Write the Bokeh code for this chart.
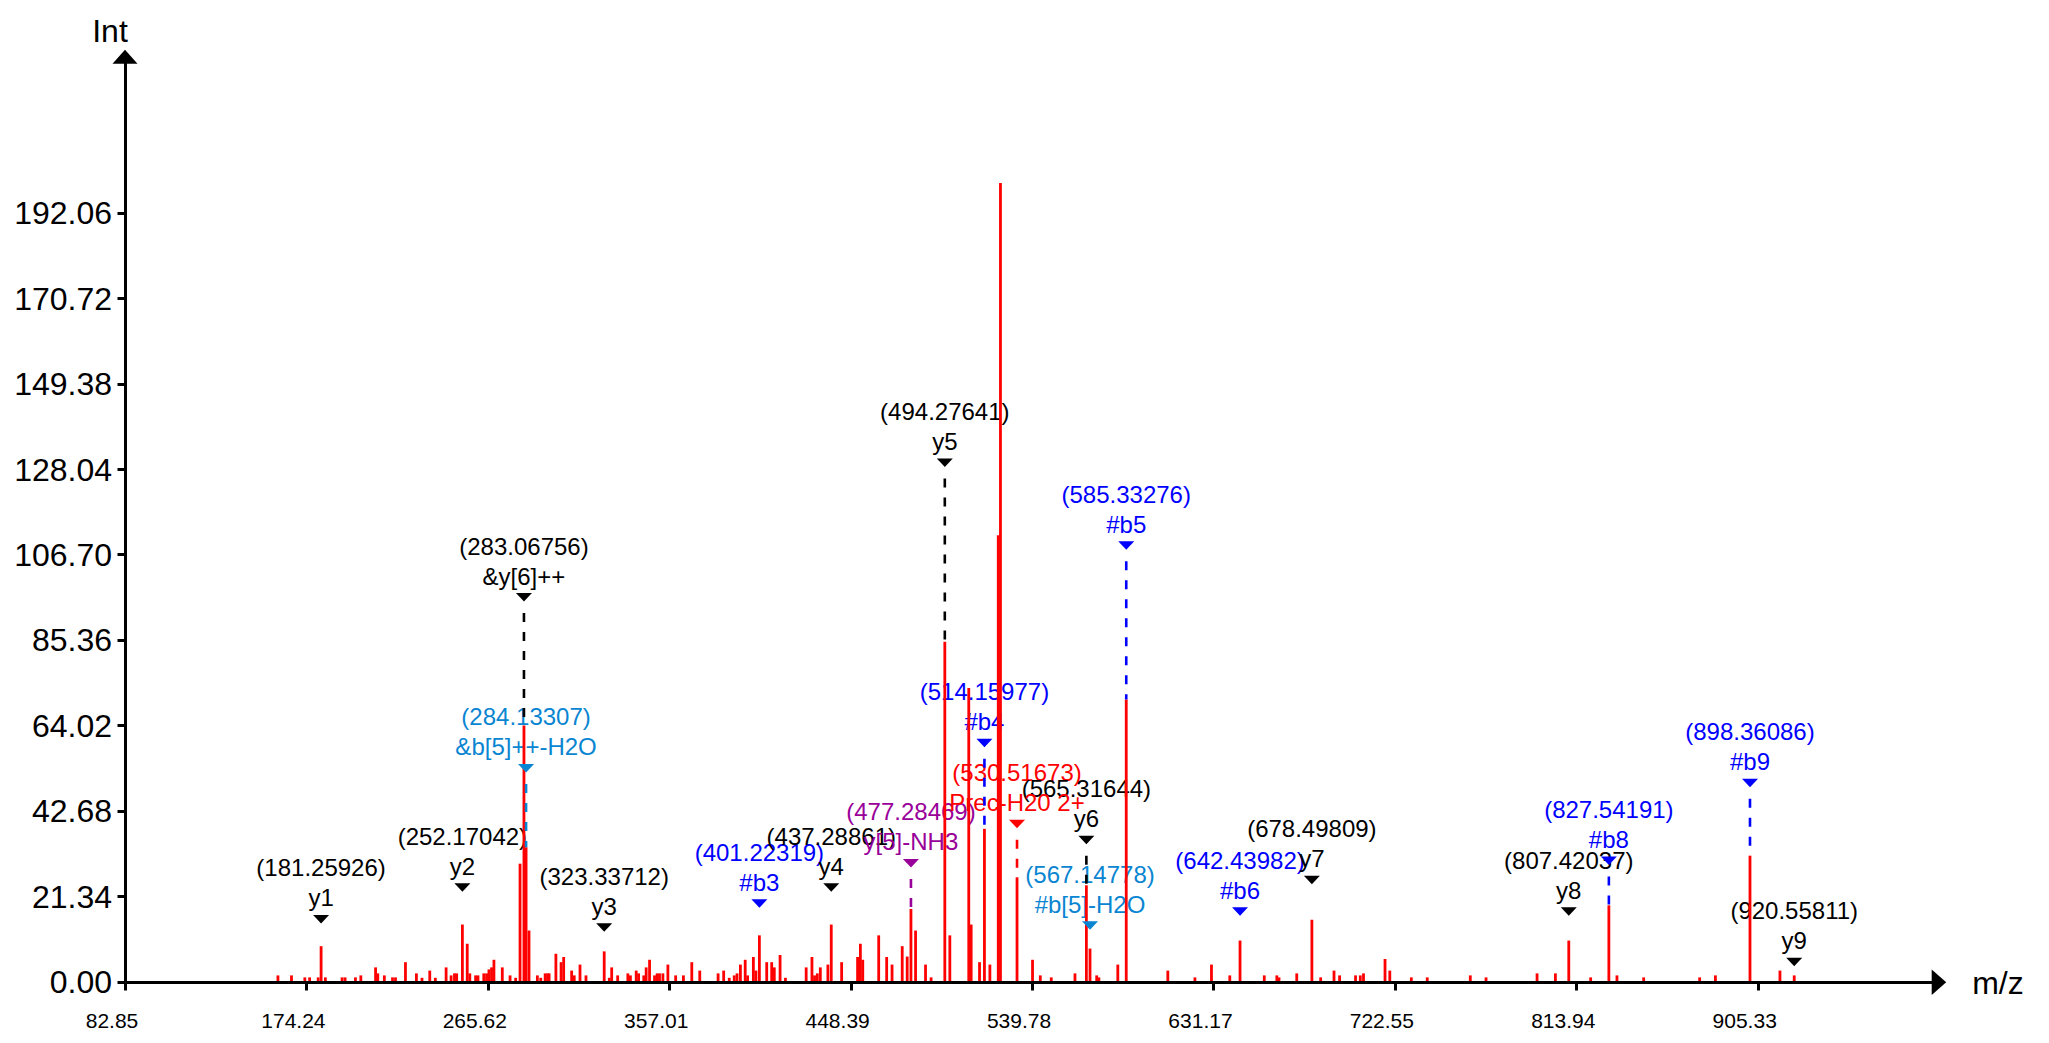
from bokeh.plotting import figure
from bokeh.models import (ColumnDataSource, Range1d, LinearAxis, FixedTicker,
                          CustomJSTickFormatter, PrintfTickFormatter)
from bokeh.core.properties import value
from bokeh.embed import file_html
from bokeh.resources import INLINE

# ---------------- data ----------------
x_tick_labels = ["82.85", "174.24", "265.62", "357.01", "448.39",
                 "539.78", "631.17", "722.55", "813.94", "905.33"]
y_tick_labels = ["0.00", "21.34", "42.68", "64.02", "85.36",
                 "106.70", "128.04", "149.38", "170.72", "192.06"]

peak_mz = [
    159.6, 166.4, 173.1, 175.5, 179.8, 181.26, 183.4, 191.8, 193.3, 198.5,
    201.2, 208.6, 209.7, 213.0, 217.1, 218.6, 223.6, 229.1, 231.9, 235.8,
    238.6, 244.0, 246.5, 248.2, 249.3, 252.17, 254.6, 255.9, 258.8, 260.0,
    262.9, 264.3, 265.5, 266.8, 268.0, 272.2, 276.1, 278.9, 281.1, 283.07,
    284.13, 285.6, 289.8, 291.5, 293.7, 294.9, 295.7, 299.1, 301.7, 303.0,
    307.0, 308.3, 311.2, 314.2, 323.34, 325.9, 327.1, 330.1, 335.2, 336.5,
    339.4, 340.6, 343.2, 344.4, 346.1, 348.6, 349.9, 351.1, 352.8, 355.3,
    359.2, 363.1, 367.3, 371.3, 380.5, 383.3, 386.1, 388.6, 390.0, 391.7,
    394.1, 395.3, 398.2, 399.5, 401.22, 404.9, 407.4, 408.7, 411.6, 414.3,
    424.7, 427.6, 428.9, 430.3, 431.8, 435.6, 437.29, 442.5, 450.5, 451.9,
    453.1, 461.1, 465.1, 467.8, 472.9, 475.4, 477.28, 479.6, 484.6, 487.4,
    494.28, 496.8, 506.3, 507.5, 511.7, 514.16, 516.9, 521.1, 522.2, 530.52,
    538.3, 542.2, 547.7, 559.6, 565.32, 567.15, 570.5, 571.6, 581.1, 585.33,
    606.2, 619.8, 628.1, 637.3, 642.44, 654.6, 660.9, 662.0, 670.9, 678.50,
    682.9, 689.6, 692.4, 700.4, 702.8, 704.4, 715.2, 717.6, 728.4, 736.4,
    758.0, 765.9, 791.5, 800.7, 807.42, 818.4, 827.54, 831.6, 845.0, 873.1,
    881.0, 898.36, 913.4, 920.56,
]
peak_int = [
    1.7, 1.7, 1.2, 1.2, 1.2, 9.0, 1.2, 1.2, 1.2, 1.2,
    1.7, 3.7, 2.2, 1.7, 1.2, 1.2, 5.0, 2.2, 1.1, 2.9,
    1.1, 3.7, 1.7, 2.2, 2.2, 14.4, 9.6, 2.2, 1.7, 1.7,
    2.2, 2.2, 3.2, 3.7, 5.6, 3.7, 1.7, 1.1, 29.6, 64.1,
    33.7, 12.9, 1.7, 1.1, 2.2, 2.2, 2.2, 7.1, 5.0, 6.3,
    2.9, 1.7, 4.4, 1.7, 7.7, 1.1, 3.7, 1.7, 2.2, 1.7,
    2.9, 2.2, 1.7, 3.7, 5.6, 1.7, 2.2, 2.2, 2.2, 4.4,
    1.7, 1.7, 5.0, 2.9, 2.2, 2.9, 1.1, 1.7, 2.2, 4.4,
    5.6, 1.7, 6.3, 2.9, 11.7, 5.0, 5.0, 3.7, 6.8, 1.1,
    3.7, 6.3, 1.7, 2.2, 3.7, 4.4, 14.4, 5.0, 6.3, 9.6,
    5.6, 11.7, 6.3, 4.4, 9.0, 6.4, 18.3, 12.9, 4.4, 1.2,
    85.0, 11.7, 73.5, 14.4, 5.0, 38.3, 4.4, 111.6, 199.6, 26.2,
    5.6, 1.7, 1.2, 2.2, 24.2, 8.4, 1.7, 1.2, 4.4, 70.6,
    2.9, 1.2, 4.4, 1.7, 10.4, 1.7, 1.7, 1.2, 2.2, 15.6,
    1.2, 2.9, 1.7, 1.7, 1.7, 2.2, 5.8, 2.9, 1.2, 1.2,
    1.7, 1.2, 2.2, 2.2, 10.4, 1.2, 19.2, 1.7, 1.2, 1.2,
    1.7, 31.6, 2.9, 1.7,
]

ann_mz = [181.25926, 252.17042, 283.06756, 284.13307, 323.33712, 401.22319,
          437.28861, 477.28469, 494.27641, 514.15977, 530.51673, 565.31644,
          567.14778, 585.33276, 642.43982, 678.49809, 807.42037, 827.54191,
          898.36086, 920.55811]
ann_label = ["y1", "y2", "&y[6]++", "&b[5]++-H2O", "y3", "#b3", "y4",
             "y[5]-NH3", "y5", "#b4", "Prec-H20 2+", "y6", "#b[5]-H2O",
             "#b5", "#b6", "y7", "y8", "#b8", "#b9", "y9"]
ann_kind = ["y", "y", "y", "b_loss", "y", "b", "y", "y_loss", "y", "b",
            "prec", "y", "b_loss", "b", "b", "y", "y", "b", "b", "y"]
# height (intensity units) at which each annotation marker sits
ann_level = [16.8, 24.7, 97.2, 54.5, 14.7, 20.7, 24.7, 30.8, 130.8, 60.8,
             40.6, 36.6, 15.2, 110.1, 18.7, 26.6, 18.7, 31.4, 50.8, 6.1]

KIND_COLOR = {"y": "#000000", "b": "#0000ff", "b_loss": "#0a85d1",
              "y_loss": "#990099", "prec": "#ff0000"}
PEAK_COLOR = "#ff0000"
FONT = "Liberation Sans"

# ---------------- layout constants (pixels) ----------------
W, H = 2045, 1040
OX, OY = 124.5, 981.7          # canvas position of (first x tick, 0)
SX, SY = 1.9926, 4.004         # px per m/z unit, px per intensity unit
TICK_SX = 1.9851               # spacing the reference uses for its x ticks
X_TIP_PX, Y_TIP_PX = 1945.7, 49.3

x_tick_values = [float(s) for s in x_tick_labels]
y_tick_values = [float(s) for s in y_tick_labels]
X0 = x_tick_values[0]

x_range = Range1d(X0 - OX / SX, X0 + (W - OX) / SX)
y_range = Range1d(-(H - OY) / SY, OY / SY)
x_tip = X0 + (X_TIP_PX - OX) / SX
y_tip = (OY - Y_TIP_PX) / SY

p = figure(width=W, height=H, x_range=x_range, y_range=y_range,
           output_backend="svg", toolbar_location=None,
           x_axis_location=None, y_axis_location=None,
           min_border=0, min_border_left=0, min_border_right=0,
           min_border_top=0, min_border_bottom=0)
p.outline_line_color = None
p.background_fill_color = "white"
p.border_fill_color = "white"
p.grid.visible = False

# ---------------- annotations ----------------
def nearest_peak(m):
    i = min(range(len(peak_mz)), key=lambda k: abs(peak_mz[k] - m))
    return peak_int[i]

ann_color = [KIND_COLOR[k] for k in ann_kind]
ann_peak = [nearest_peak(m) for m in ann_mz]
ann_text = ["(%.5f)" % m for m in ann_mz]

ann_src = ColumnDataSource(dict(mz=ann_mz, level=ann_level, mz_text=ann_text,
                                label=ann_label, color=ann_color))

# texts (drawn first: sticks and leaders pass over them)
p.text(x="mz", y="level", text="mz_text", source=ann_src, text_color="color",
       text_align="center", text_baseline="alphabetic", y_offset=-47,
       text_font=value(FONT), text_font_size="24px")
p.text(x="mz", y="level", text="label", source=ann_src, text_color="color",
       text_align="center", text_baseline="alphabetic", y_offset=-17,
       text_font=value(FONT), text_font_size="24px")

# spectrum sticks
peak_src = ColumnDataSource(dict(mz=peak_mz, inten=peak_int))
p.segment(x0="mz", y0=0, x1="mz", y1="inten", source=peak_src,
          line_color=PEAK_COLOR, line_width=2.8)

# dashed leaders where the marker is far above its peak
lead = [i for i in range(len(ann_mz)) if (ann_level[i] - ann_peak[i]) * SY > 46]
lead_src = ColumnDataSource(dict(
    mz=[ann_mz[i] for i in lead],
    top=[ann_level[i] - 20 / SY for i in lead],
    bot=[ann_peak[i] for i in lead],
    color=[ann_color[i] for i in lead]))
p.segment(x0="mz", y0="top", x1="mz", y1="bot", source=lead_src,
          line_color="color", line_width=2.6, line_dash="9 10")

# downward triangle markers
tri_xs = [[m - 8 / SX, m + 8 / SX, m] for m in ann_mz]
tri_ys = [[lv, lv, lv - 8.5 / SY] for lv in ann_level]
p.patches(xs=tri_xs, ys=tri_ys, fill_color=ann_color, line_color=None)

# ---------------- axes ----------------
tick_pos = [X0 + (0.5 + (v - X0) * TICK_SX) / SX for v in x_tick_values]
label_pos = [t - 13.5 / SX for t in tick_pos]

yaxis = LinearAxis(fixed_location=X0, ticker=FixedTicker(ticks=y_tick_values),
                   formatter=PrintfTickFormatter(format="%.2f"),
                   bounds=(0, y_tip - 10 / SY))
xaxis = LinearAxis(fixed_location=0, ticker=FixedTicker(ticks=tick_pos),
                   formatter=CustomJSTickFormatter(code="return ''"),
                   bounds=(X0, x_tip - 10 / SX))
for ax in (xaxis, yaxis):
    ax.axis_line_width = 3
    ax.axis_line_color = "black"
    ax.major_tick_line_width = 3
    ax.major_tick_line_color = "black"
    ax.major_tick_out = 8
    ax.major_tick_in = 0
    ax.minor_tick_out = 0
    ax.minor_tick_in = 0
    ax.minor_tick_line_color = None
    ax.major_label_text_font = FONT
    ax.major_label_text_color = "black"
yaxis.major_label_text_font_size = "32px"
yaxis.major_label_standoff = 5
p.add_layout(yaxis, "left")
p.add_layout(xaxis, "below")

# x tick labels sit slightly left of their ticks in the reference
xlab = LinearAxis(fixed_location=0, ticker=FixedTicker(ticks=label_pos),
                  formatter=CustomJSTickFormatter(
                      args=dict(pos=label_pos, labels=x_tick_labels),
                      code="""
                      let best = 0;
                      for (let i = 1; i < pos.length; i++) {
                        if (Math.abs(pos[i] - tick) < Math.abs(pos[best] - tick)) best = i;
                      }
                      return labels[best];
                      """))
xlab.axis_line_color = None
xlab.major_tick_line_color = None
xlab.minor_tick_line_color = None
xlab.major_tick_out = 0
xlab.major_tick_in = 0
xlab.minor_tick_out = 0
xlab.minor_tick_in = 0
xlab.major_label_standoff = 32
xlab.major_label_text_font = FONT
xlab.major_label_text_font_size = "21px"
xlab.major_label_text_color = "black"
p.add_layout(xlab, "below")

# arrow heads
p.patch(x=[x_tip, x_tip - 14.5 / SX, x_tip - 14.5 / SX],
        y=[0, 12.8 / SY, -12.8 / SY], fill_color="black", line_color=None)
p.patch(x=[X0, X0 - 12.5 / SX, X0 + 12.5 / SX],
        y=[y_tip, y_tip - 14 / SY, y_tip - 14 / SY], fill_color="black", line_color=None)

# axis titles
p.text(x=[X0], y=[y_tip], text=["Int"], text_align="center",
       text_baseline="alphabetic", x_offset=-15, y_offset=-19,
       text_font=value(FONT), text_font_size="32px", text_color="black")
p.text(x=[x_tip], y=[0], text=["m/z"], text_align="left",
       text_baseline="alphabetic", x_offset=26, y_offset=1,
       text_font=value(FONT), text_font_size="32px", text_color="black")

open("out.html", "w").write(file_html(p, INLINE))
